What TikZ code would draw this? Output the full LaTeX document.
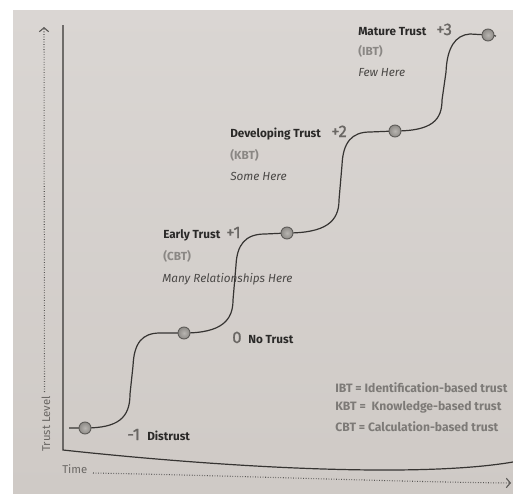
\documentclass[tikz,border=0pt]{standalone}
\usepackage{fontspec}
\setmainfont{Fira Sans}
\newfontfamily\numfont[FakeBold=1.2]{Fira Sans}
\usetikzlibrary{arrows.meta}
\definecolor{pagebgtop}{HTML}{DAD6D3}
\definecolor{pagebgbot}{HTML}{CFCAC6}
\definecolor{inkdark}{HTML}{2A2928}
\definecolor{inkgray}{HTML}{6A6764}
\definecolor{inklight}{HTML}{8A8784}
\definecolor{inknote}{HTML}{4A4846}
\definecolor{legink}{HTML}{7D7A77}
\definecolor{axisink}{HTML}{363432}
\definecolor{dotink}{HTML}{575553}
\definecolor{ballin}{HTML}{B8B5B1}
\definecolor{ballout}{HTML}{8E8B87}
\definecolor{ballrim}{HTML}{5E5C59}
\tikzset{
  axisline/.style={draw=axisink, line width=0.9pt},
  dotline/.style={draw=dotink, line width=0.8pt, dash pattern=on 0.6pt off 1.3pt, -{Straight Barb[length=3pt,width=7pt,line width=0.8pt]}},
  trustcurve/.style={draw=axisink, line width=0.9pt},
  stepball/.style={circle, minimum size=9pt, inner sep=0pt, inner color=ballin, outer color=ballout, draw=ballrim, line width=0.7pt},
  lbl/.style={anchor=base west, inner sep=0pt, text=inkdark, font=\fontsize{8.8}{10}\selectfont\bfseries},
  num/.style={anchor=base west, inner sep=0pt, text=inkgray, font=\fontsize{12.5}{13}\selectfont\numfont},
  abbr/.style={anchor=base west, inner sep=0pt, text=inklight, font=\fontsize{8.8}{10}\selectfont\bfseries},
  note/.style={anchor=base west, inner sep=0pt, text=inknote, font=\fontsize{8.8}{10}\selectfont\itshape},
  legend/.style={anchor=base west, inner sep=0pt, text=legink, font=\fontsize{9.1}{10}\selectfont\bfseries},
  axlabel/.style={anchor=base west, inner sep=0pt, text=inkgray, font=\fontsize{8.5}{10}\selectfont},
}
\begin{document}
\begin{tikzpicture}[x=0.75pt,y=-0.75pt]
\useasboundingbox (0,0) rectangle (513,493);
\fill[white] (0,0) rectangle (513,493);
\shade[top color=pagebgtop, bottom color=pagebgbot] (13,10) rectangle (513,493);

% axes
\coordinate (ytop) at (63,25);
\coordinate (origin) at (63,450);
\coordinate (xend) at (513,462);
\draw[axisline] (ytop) -- (origin) .. controls (230,468) and (420,478) .. (xend);

% dotted axis arrows
\node[axlabel, rotate=90] (trustlevel) at (50,452) {Trust Level};
\coordinate (ydotstart) at (44.5,392);
\coordinate (ydotend) at (44,27);
\draw[dotline] (ydotstart) -- (ydotend);
\node[axlabel] (time) at (62,473) {Time};
\coordinate (xdotstart) at (93,473);
\coordinate (xdotend) at (511,483);
\draw[dotline] (xdotstart) .. controls (250,476) and (400,482) .. (xdotend);

% curve points
\coordinate (p1) at (85,428);
\coordinate (p2) at (184,333);
\coordinate (p3) at (287,233);
\coordinate (p4) at (395,131);
\coordinate (p5) at (488,35);
\coordinate (tailL) at (69,428);
\coordinate (tailR) at (496,36);

\draw[trustcurve] (tailL) -- (p1)
  .. controls (118,428) and (130,418) .. (130,394) -- (133,366)
  .. controls (134,343) and (142,333) .. (160,333) -- (p2)
  .. controls (222,333) and (233,320) .. (233,300) -- (236,265)
  .. controls (237,245) and (245,234) .. (265,234) -- (p3)
  .. controls (325,233) and (339,222) .. (339,200) -- (342,165)
  .. controls (343,142) and (352,132) .. (370,132) -- (p4)
  .. controls (432,131) and (442,120) .. (442,100) -- (446,72)
  .. controls (447,48) and (455,35) .. (470,34) -- (p5) -- (tailR);

\node[stepball] (c1) at (p1) {};
\node[stepball] (c2) at (p2) {};
\node[stepball] (c3) at (p3) {};
\node[stepball] (c4) at (p4) {};
\node[stepball] (c5) at (p5) {};

% -1 Distrust
\node[num] (m1) at (127,440) {-1};
\node[lbl] (distrust) at (147,440) {Distrust};
% 0 No Trust
\node[num] (z0) at (232,343) {0};
\node[lbl] (notrust) at (248,343) {No Trust};
% +1
\node[lbl] (early) at (163,238) {Early Trust};
\node[num] (p1num) at (226,238) {+1};
\node[abbr] (cbt) at (163,260) {(CBT)};
\node[note] (many) at (162,282) {Many Relationships Here};
% +2
\node[lbl] (developing) at (230,137) {Developing Trust};
\node[num] (p2num) at (331,137) {+2};
\node[abbr] (kbt) at (230,159) {(KBT)};
\node[note] (some) at (230,180) {Some Here};
% +3
\node[lbl] (mature) at (358,35) {Mature Trust};
\node[num] (p3num) at (436,35) {+3};
\node[abbr] (ibt) at (358,55) {(IBT)};
\node[note] (few) at (358,76) {Few Here};

% legend
\node[legend] (legI) at (335,392) {IBT = Identification-based trust};
\node[legend] (legK) at (335,410) {KBT =\ \ Knowledge-based trust};
\node[legend] (legC) at (335,431) {CBT = Calculation-based trust};
\end{tikzpicture}
\end{document}
